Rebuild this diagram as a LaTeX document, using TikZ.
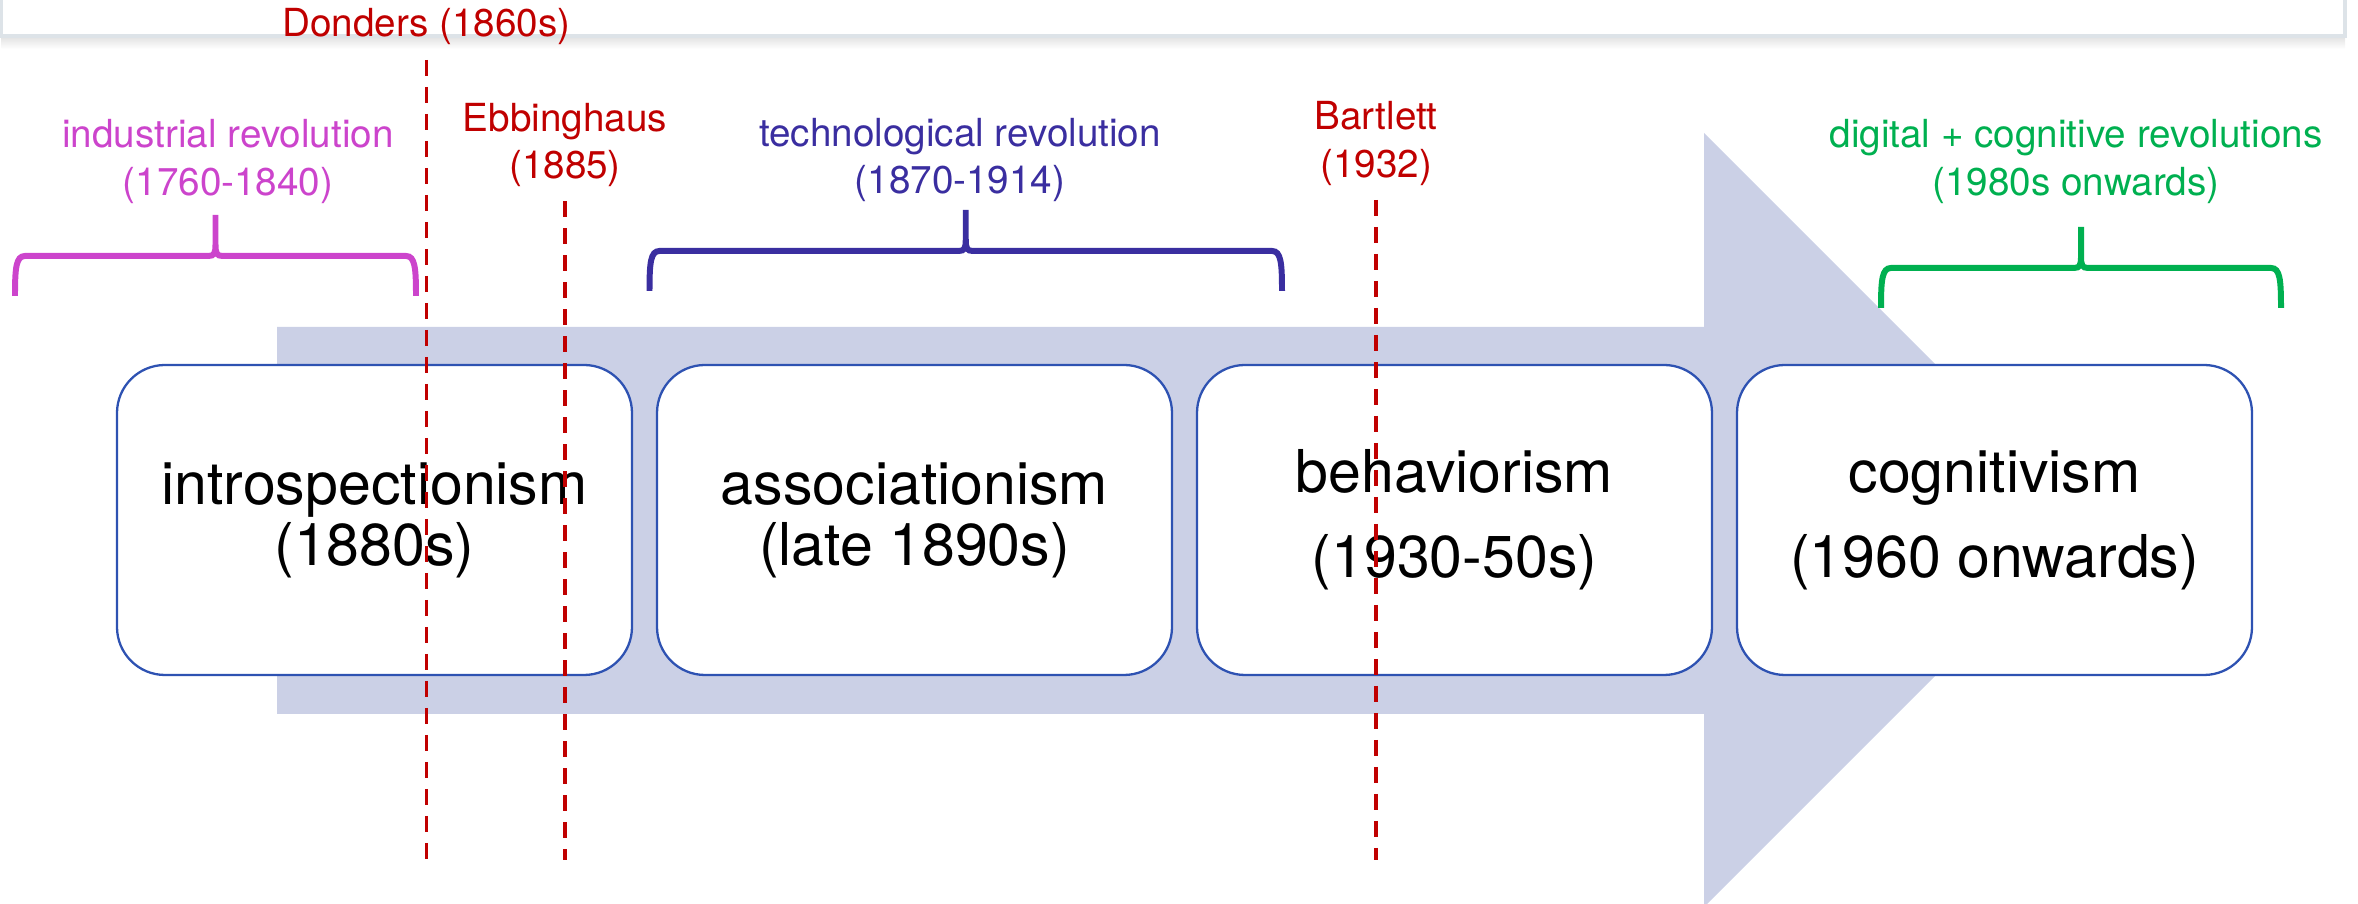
\documentclass[tikz,border=0pt]{standalone}
\usepackage{fontspec}
\setmainfont{TeX Gyre Heros}
\usepackage{tikz}
\usetikzlibrary{positioning}

\definecolor{arrowfill}{RGB}{203,208,230}
\definecolor{boxblue}{RGB}{46,82,178}
\definecolor{eventred}{RGB}{192,0,0}
\definecolor{indmagenta}{RGB}{204,68,204}
\definecolor{techblue}{RGB}{58,46,160}
\definecolor{diggreen}{RGB}{0,176,80}
\definecolor{framegray}{RGB}{221,227,232}

% brace: colour, left x, right x, y of the bar
\newcommand{\erabrace}[4]{%
  \draw[braceline,#1] (#2,{#4-0.4}) .. controls (#2,{#4-0.12}) and ({#2+0.01},#4) .. ({#2+0.1},#4)
    -- ({(#2+#3)/2-0.07},#4) .. controls ({(#2+#3)/2-0.01},#4) and ({(#2+#3)/2},{#4+0.03}) .. ({(#2+#3)/2},{#4+0.12})
    -- ({(#2+#3)/2},{#4+0.41})
    ({(#2+#3)/2},{#4+0.12}) .. controls ({(#2+#3)/2},{#4+0.03}) and ({(#2+#3)/2+0.01},#4) .. ({(#2+#3)/2+0.07},#4)
    -- ({#3-0.1},#4) .. controls ({#3-0.01},#4) and (#3,{#4-0.12}) .. (#3,{#4-0.4});
}

\begin{document}
\begin{tikzpicture}[
            node distance=0.25cm,
            era/.style={draw=boxblue,line width=0.65pt,fill=white,rounded corners=0.48cm,
                minimum width=5.15cm,minimum height=3.1cm,align=center,inner sep=0pt,outer sep=0pt,
                font=\fontsize{16.8}{17.4}\selectfont},
            wide era/.style={era,font=\fontsize{16.8}{24.2}\selectfont},
            tag/.style={align=center,inner sep=0pt,font=\fontsize{11}{13.4}\selectfont},
            event/.style={eventred,line width=1.05pt,dash pattern=on 0.16cm off 0.11cm,shorten <=0.14cm},
            braceline/.style={line width=1.7pt}
            ]
            \useasboundingbox (0,0) rectangle (23.58,9.04);
            \clip (0,0) rectangle (23.58,9.04);

            % frame at the top
            \shade[top color=black!12,bottom color=white] (0.015,8.55) rectangle (23.45,8.68);
            \draw[framegray,fill=white,line width=1pt] (0.015,9.3) -- (0.015,8.68) -- (23.45,8.68) -- (23.45,9.3);

            % big arrow
            \fill[arrowfill] (2.77,5.77) -- (17.04,5.77) -- (17.04,7.71) -- (20.91,3.84)
                -- (17.04,-0.03) -- (17.04,1.90) -- (2.77,1.90) -- cycle;

            \node[era] (intro) at (3.745,3.84) {introspectionism\\(1880s)};
            \node[era, right=of intro] (assoc) {associationism\\(late 1890s)};
            \node[wide era, right=of assoc] (behav) {behaviorism\\(1930-50s)};
            \node[wide era, right=of behav] (cogn) {cognitivism\\(1960 onwards)};

            % revolutions
            \node[tag, indmagenta] (indrev) at (2.28,7.425) {industrial revolution\\(1760-1840)};
            \node[tag, techblue] (techrev) at (9.60,7.44) {technological revolution\\(1870-1914)};
            \node[tag, diggreen] (digrev) at (20.76,7.425) {digital + cognitive revolutions\\(1980s onwards)};
            \erabrace{indmagenta}{0.15}{4.16}{6.48}
            \erabrace{techblue}{6.495}{12.82}{6.53}
            \erabrace{diggreen}{18.81}{22.81}{6.36}

            % people
            \coordinate (floor) at (0,0.44);
            \node[tag, eventred] (donders) at (4.265,8.77) {Donders (1860s)};
            \node[tag, eventred] (ebb) at (5.65,7.59) {Ebbinghaus\\(1885)};
            \node[tag, eventred] (bart) at (13.76,7.605) {Bartlett\\(1932)};
            \draw[event] (donders.south) -- (donders.south |- floor);
            \draw[event] (ebb.south) -- (ebb.south |- floor);
            \draw[event] (bart.south) -- (bart.south |- floor);
        \end{tikzpicture}
\end{document}
